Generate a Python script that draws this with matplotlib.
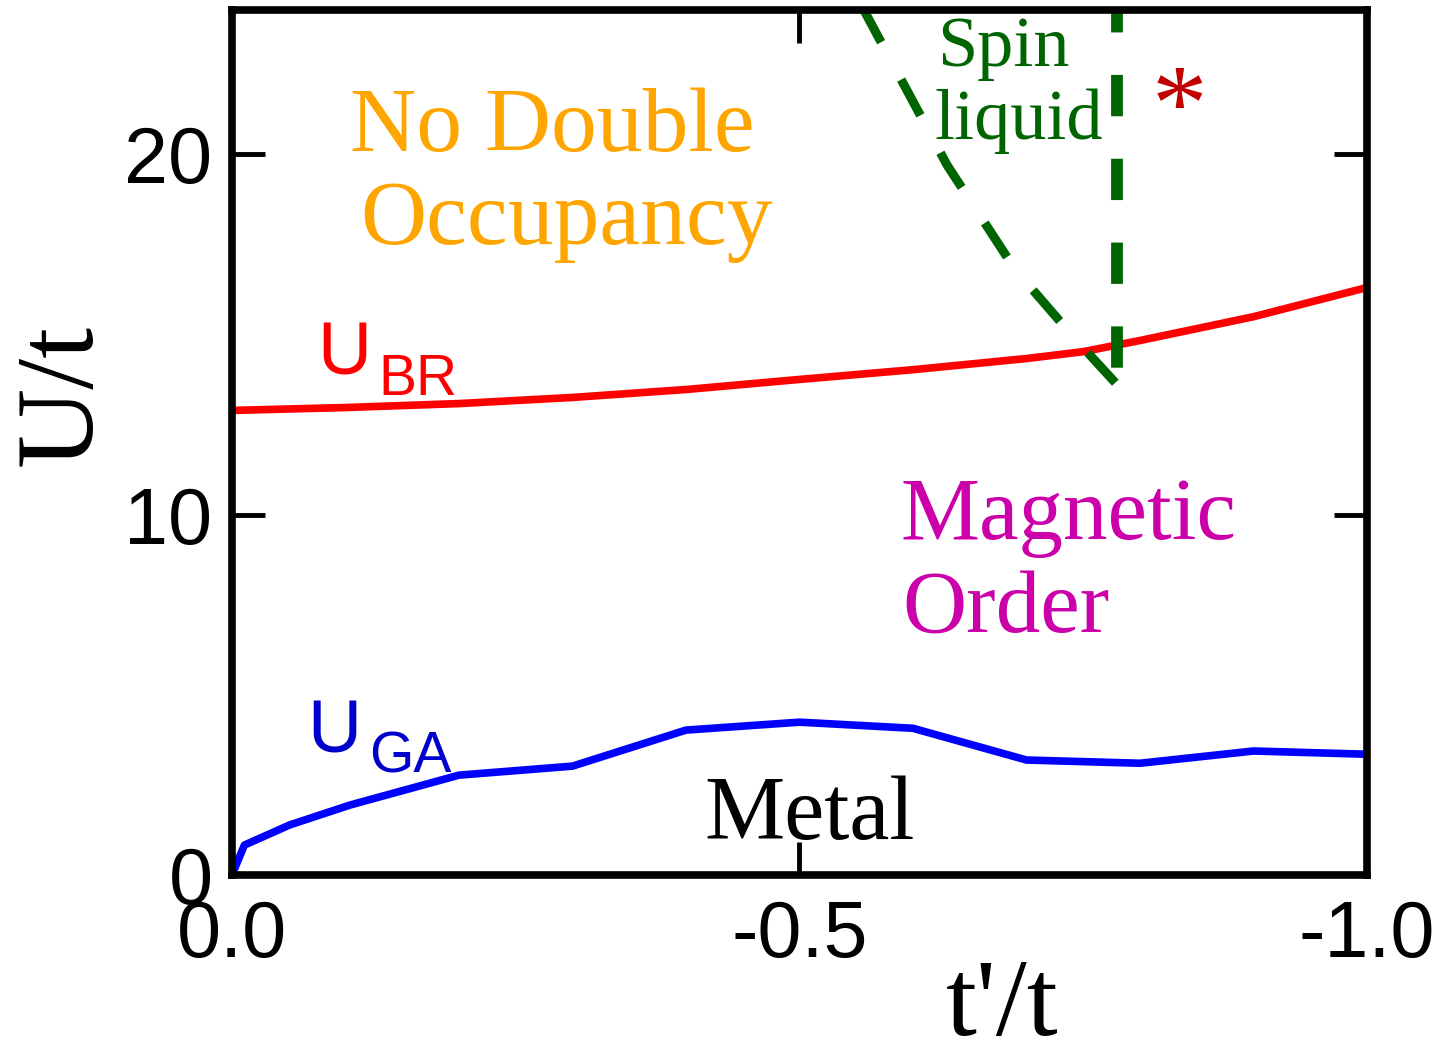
import matplotlib.pyplot as plt

# phase boundaries
tp_br = [0.0, -0.1, -0.2, -0.3, -0.4, -0.5, -0.6, -0.7, -0.75, -0.8, -0.9, -1.0]
u_br = [12.89, 12.97, 13.08, 13.25, 13.47, 13.75, 14.02, 14.33, 14.52, 14.83, 15.49, 16.3]

tp_ga = [0.0, -0.011, -0.051, -0.104, -0.2, -0.3, -0.4, -0.5, -0.6, -0.7, -0.8, -0.9, -1.0]
u_ga = [0.0, 0.83, 1.39, 1.94, 2.77, 3.02, 4.02, 4.24, 4.07, 3.19, 3.1, 3.44, 3.35]

tp_sl_diag = [-0.555, -0.63, -0.69, -0.745, -0.78]
u_sl_diag = [24.1, 19.7, 16.8, 14.8, 13.6]
tp_sl_vert = [-0.78, -0.78]
u_sl_vert = [24.0, 14.0]

xticks = [0.0, -0.5, -1.0]
xticklabels = ['0.0', '-0.5', '-1.0']
yticks = [0, 10, 20]

sans = 'Liberation Sans'
serif = 'Liberation Serif'

fig = plt.figure(figsize=(14.47, 10.44), dpi=100)
ax = fig.add_axes([0.1603, 0.1619, 0.7844, 0.8285])

ax.plot(tp_br, u_br, color='#ff0000', lw=5.5, solid_capstyle='butt')
ax.plot(tp_ga, u_ga, color='#0000ff', lw=5.5, solid_capstyle='butt')
ax.plot(tp_sl_diag, u_sl_diag, color='#006400', lw=6.5, dashes=(4.5, 4.7))
ax.plot(tp_sl_vert, u_sl_vert, color='#006400', lw=8.5,
        linestyle=(1.6, (3.5, 3.6)))

ax.set_xlim(0, -1.0)
ax.set_ylim(0, 24)
ax.set_xticks(xticks)
ax.set_xticklabels(xticklabels)
ax.set_yticks(yticks)

for s in ax.spines.values():
    s.set_linewidth(5.5)
ax.tick_params(direction='in', length=24, width=3.5, top=True, right=True,
               labelsize=57)
ax.tick_params(axis='x', pad=17)
ax.tick_params(axis='y', pad=14)
for lab in ax.get_xticklabels() + ax.get_yticklabels():
    lab.set_fontfamily(sans)

ax.set_xlabel("t'/t", fontsize=80, fontfamily=serif, labelpad=-11)
ax.set_ylabel('U/t', fontsize=80, fontfamily=serif, labelpad=8)
ax.xaxis.label.set_x(0.679)
ax.yaxis.label.set_y(0.555)

# region labels, one line per text, placed on the baseline
orange = '#ffa500'
green = '#006400'
magenta = '#cc00aa'
ax.text(-0.104, 20.09, 'No Double', color=orange, fontsize=66,
        fontfamily=serif, va='baseline')
ax.text(-0.113, 17.52, 'Occupancy', color=orange, fontsize=66,
        fontfamily=serif, va='baseline')
ax.text(-0.621, 22.45, 'Spin', color=green, fontsize=52,
        fontfamily=serif, va='baseline')
ax.text(-0.619, 20.43, 'liquid', color=green, fontsize=52,
        fontfamily=serif, va='baseline')
ax.text(-0.835, 20.4, '*', color='#c00000', fontsize=80, fontfamily=serif,
        ha='center', va='baseline')
ax.text(-0.589, 9.33, 'Magnetic', color=magenta, fontsize=64,
        fontfamily=serif, va='baseline')
ax.text(-0.591, 6.76, 'Order', color=magenta, fontsize=64,
        fontfamily=serif, va='baseline')
ax.text(-0.416, 1.0, 'Metal', color='black', fontsize=65,
        fontfamily=serif, va='baseline')

# U_BR and U_GA with hand-set subscripts
ax.text(-0.0749, 13.89, 'U', color='#ff0000', fontsize=54,
        fontfamily=sans, va='baseline')
ax.text(-0.1286, 13.33, 'BR', color='#ff0000', fontsize=41,
        fontfamily=sans, va='baseline')
ax.text(-0.066, 3.41, 'U', color='#0000cc', fontsize=54,
        fontfamily=sans, va='baseline')
ax.text(-0.1207, 2.85, 'GA', color='#0000cc', fontsize=41,
        fontfamily=sans, va='baseline')

fig.savefig('out.png', dpi=100)
